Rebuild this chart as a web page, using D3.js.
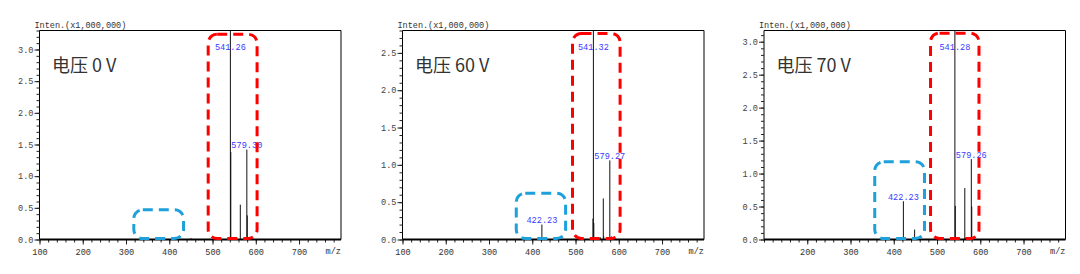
<!DOCTYPE html>
<html><head><meta charset="utf-8">
<script src="https://cdn.jsdelivr.net/npm/d3@7"></script>
<style>body{margin:0;background:#fff} svg{display:block}</style>
</head><body><svg id="c" width="1080" height="274"></svg>
<script>
// ---- data ----
const titles = ["电压 0 V", "电压 60 V", "电压 70 V"];
const yMaxes = [3.3, 2.8, 3.17];
const xDomain = [100, 797];
const xTickLabels0 = [100, 200, 300, 400, 500, 600, 700];
const xTickLabels1 = [100, 200, 300, 400, 500, 600, 700];
const xTickLabels2 = [200, 300, 400, 500, 600, 700];
const yTickLabels0 = [0, 0.5, 1.0, 1.5, 2.0, 2.5, 3.0];
const yTickLabels1 = [0, 0.5, 1.0, 1.5, 2.0, 2.5];
const yTickLabels2 = [0, 0.5, 1.0, 1.5, 2.0, 2.5, 3.0];

const peakMz0  = [450.2, 541.26, 542.27, 564.2, 579.30, 580.3];
const peakInt0 = [0.02,  3.40,   1.38,   0.55,  1.42,   0.38];
const peakMz1  = [422.23, 423.2, 540.3, 541.32, 542.3, 557.3, 564.2, 565.2, 579.27, 583.2];
const peakInt1 = [0.20,   0.02,  0.28,  2.90,   0.22,  0.03,  0.55,  0.04,  1.06,   0.04];
const peakMz2  = [422.23, 448.2, 541.28, 542.3, 545.3, 564.2, 565.2, 579.26, 580.3];
const peakInt2 = [0.58,   0.15,  3.30,   0.51,  0.03,  0.78,  0.03,  1.22,   0.50];

const labelMz0 = [541.26, 579.30];
const labelMz1 = [422.23, 541.32, 579.27];
const labelMz2 = [422.23, 541.28, 579.26];

const redBoxes  = [[490, 603, 3.24], [493, 603, 2.76], [485, 597, 3.13]];
const blueBoxes = [[318, 433, 0.47], [363, 477, 0.62], [356, 471, 1.18]];

// ---- layout ----
const svg = d3.select("#c");
const panelLeft = [39.5, 402.5, 764];
const panelW = 301.5;
const plotTop = 30.5, plotBottom = 239.5;
const monoFont = "'Liberation Mono', 'DejaVu Sans Mono', monospace";

const panels = [
  {mz: peakMz0, it: peakInt0, lab: labelMz0, xt: xTickLabels0, yt: yTickLabels0},
  {mz: peakMz1, it: peakInt1, lab: labelMz1, xt: xTickLabels1, yt: yTickLabels1},
  {mz: peakMz2, it: peakInt2, lab: labelMz2, xt: xTickLabels2, yt: yTickLabels2}
];

panels.forEach((p, i) => {
  const L = panelLeft[i], R = L + panelW;
  const x = d3.scaleLinear().domain(xDomain).range([L, R]);
  const y = d3.scaleLinear().domain([0, yMaxes[i]]).range([plotBottom, plotTop]);
  const g = svg.append("g");

  g.append("path").attr("d", `M${L},${plotBottom}V${plotTop}H${R}V${plotBottom}`)
    .attr("fill", "none").attr("stroke", "#000").attr("stroke-width", 1);

  const xAx = d3.axisBottom(x).tickValues(d3.range(100, 781, 20)).tickSize(3).tickFormat("");
  g.append("g").attr("transform", `translate(0,${plotBottom})`).call(xAx)
    .call(s => s.select(".domain").remove())
    .call(s => s.selectAll("line").attr("stroke", "#222"));
  const xAxMaj = d3.axisBottom(x).tickValues(p.xt).tickSize(5).tickPadding(4).tickFormat(d3.format("d"));
  g.append("g").attr("transform", `translate(0,${plotBottom})`).call(xAxMaj)
    .call(s => s.select(".domain").remove())
    .call(s => s.selectAll("line").attr("stroke", "#222"))
    .call(s => s.selectAll("text").attr("font-family", monoFont).attr("font-size", 8.6).attr("fill", "#333"));
  g.append("line").attr("x1", L).attr("x2", R).attr("y1", plotBottom).attr("y2", plotBottom)
    .attr("stroke", "#000").attr("stroke-width", 2);
  g.append("text").attr("x", R).attr("y", 253.5).attr("text-anchor", "end")
    .attr("font-family", monoFont).attr("font-size", 8.6).attr("fill", "#333").text("m/z");

  const yMinor = d3.range(0, yMaxes[i] + 1e-9, 0.1);
  const yAx = d3.axisLeft(y).tickValues(yMinor).tickSize(3).tickFormat("");
  g.append("g").attr("transform", `translate(${L},0)`).call(yAx)
    .call(s => s.select(".domain").remove())
    .call(s => s.selectAll("line").attr("stroke", "#222"));
  const yAxMaj = d3.axisLeft(y).tickValues(p.yt).tickSize(5).tickPadding(1).tickFormat(d3.format(".1f"));
  g.append("g").attr("transform", `translate(${L},0)`).call(yAxMaj)
    .call(s => s.select(".domain").remove())
    .call(s => s.selectAll("line").attr("stroke", "#222"))
    .call(s => s.selectAll("text").attr("font-family", monoFont).attr("font-size", 8.6).attr("fill", "#444"));

  g.append("text").attr("x", L - 5).attr("y", 27.5)
    .attr("font-family", monoFont).attr("font-size", 8.5).attr("fill", "#333")
    .text("Inten.(x1,000,000)");

  const clipId = "clip" + i;
  svg.append("clipPath").attr("id", clipId).append("rect")
    .attr("x", L).attr("y", plotTop).attr("width", panelW).attr("height", plotBottom - plotTop);
  g.append("g").attr("clip-path", `url(#${clipId})`)
    .selectAll("line").data(p.mz.map((m, k) => [m, p.it[k]])).join("line")
    .attr("x1", d => x(d[0])).attr("x2", d => x(d[0]))
    .attr("y1", y(0)).attr("y2", d => y(d[1]))
    .attr("stroke", "#111").attr("stroke-width", 1);

  const fmt = d3.format(".2f");
  g.selectAll("text.lab").data(p.lab).join("text").attr("class", "lab")
    .attr("x", d => x(d))
    .attr("y", d => {
      const v = p.it[p.mz.indexOf(d)];
      return Math.max(y(v) - 1.5, plotTop + 19.5);
    })
    .attr("text-anchor", "middle")
    .attr("font-family", monoFont).attr("font-size", 8.6).attr("fill", "#3a3aff")
    .text(d => fmt(d));

  g.append("text").attr("x", L + 12.5).attr("y", plotTop + 41)
    .attr("font-family", "'Noto Sans CJK SC', 'Noto Sans', sans-serif").attr("font-size", 18)
    .attr("fill", "#333").text(titles[i]);

  const box = (b, color) => {
    g.append("rect")
      .attr("x", x(b[0])).attr("y", y(b[2]))
      .attr("width", x(b[1]) - x(b[0])).attr("height", y(0) - y(b[2]) - 1)
      .attr("rx", 9).attr("ry", 9)
      .attr("fill", "none").attr("stroke", color).attr("stroke-width", 3)
      .attr("stroke-dasharray", "10,6");
  };
  box(redBoxes[i], "#ff0000");
  box(blueBoxes[i], "#1ea0da");
});
</script></body></html>
